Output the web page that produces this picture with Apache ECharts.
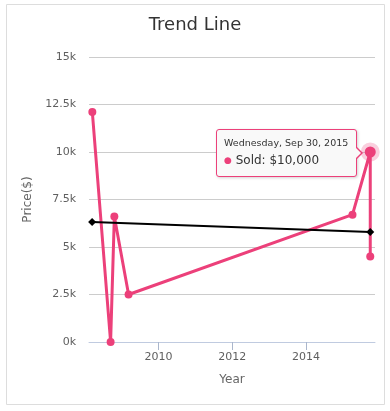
<!DOCTYPE html>
<html>
<head>
<meta charset="utf-8">
<script src="https://cdn.jsdelivr.net/npm/echarts@6/dist/echarts.min.js"></script>
<style>
html,body{margin:0;padding:0;background:#fff;}
#chart{width:390px;height:411px;position:relative;}
.tt::before{content:'';position:absolute;right:-7px;top:16px;width:0;height:0;border-top:7px solid transparent;border-bottom:7px solid transparent;border-left:7px solid #ec407a;}
.tt::after{content:'';position:absolute;right:-5px;top:17px;width:0;height:0;border-top:6px solid transparent;border-bottom:6px solid transparent;border-left:6px solid #f9f9f9;}
</style>
</head>
<body>
<div id="chart"></div>
<script>
// ---- data ----
var soldDates = ['2008-03-17', '2008-09-14', '2008-10-21', '2009-03-11', '2015-04-07', '2015-09-30', '2015-09-30'];
var soldValues = [12100, 0, 6600, 2500, 6700, 10000, 4500];
var trendDates = ['2008-03-15', '2015-09-30'];
var trendValues = [6320, 5790];
var tickYears = [2010, 2012, 2014];
var yTicks = [0, 2500, 5000, 7500, 10000, 12500, 15000];
var xRange = ['2008-02-13', '2015-11-16'];
var highlightIndex = 5;

var PINK = '#ec407a';
function ts(s) { return new Date(s + 'T00:00:00Z').getTime(); }
var tickTs = tickYears.map(function (y) { return Date.UTC(y, 0, 1); });

var soldData = soldDates.map(function (d, i) {
  var item = { value: [ts(d), soldValues[i]] };
  if (i === highlightIndex) {
    item.symbolSize = 11;
    item.itemStyle = { color: PINK, borderColor: 'rgba(236,64,122,0.25)', borderWidth: 8 };
  }
  return item;
});
var trendData = trendDates.map(function (d, i) { return [ts(d), trendValues[i]]; });
var tickData = tickTs.map(function (t) { return [t, yTicks[0]]; });

var DAYS = ['Sunday', 'Monday', 'Tuesday', 'Wednesday', 'Thursday', 'Friday', 'Saturday'];
var MONTHS = ['Jan', 'Feb', 'Mar', 'Apr', 'May', 'Jun', 'Jul', 'Aug', 'Sep', 'Oct', 'Nov', 'Dec'];

var chart = echarts.init(document.getElementById('chart'), null, { renderer: 'canvas' });
var FONT = '"DejaVu Sans", Verdana, sans-serif';
var FONT_CSS = "'DejaVu Sans', Verdana, sans-serif";

chart.setOption({
  animation: false,
  useUTC: true,
  textStyle: { fontFamily: FONT },
  title: {
    text: 'Trend Line',
    left: 'center',
    top: 11,
    textStyle: { fontFamily: FONT, fontSize: 18, fontWeight: 'normal', color: '#333333' }
  },
  graphic: [{
    type: 'rect',
    shape: { x: 6.5, y: 4.5, width: 378, height: 400 },
    style: { fill: 'none', stroke: '#dddddd', lineWidth: 1 },
    silent: true
  }],
  grid: { left: 89, right: 15, top: 57, bottom: 69, containLabel: false },
  tooltip: {
    trigger: 'item',
    triggerOn: 'none',
    alwaysShowContent: true,
    transitionDuration: 0,
    className: 'tt',
    backgroundColor: '#f9f9f9',
    borderColor: PINK,
    borderWidth: 1,
    borderRadius: 3,
    padding: [6, 8, 6, 7],
    extraCssText: 'box-shadow:1px 1px 3px rgba(0,0,0,0.18);',
    position: function () { return [216, 129]; },
    formatter: function (p) {
      var d = new Date(p.value[0]);
      var head = DAYS[d.getUTCDay()] + ', ' + MONTHS[d.getUTCMonth()] + ' ' + d.getUTCDate() + ', ' + d.getUTCFullYear();
      var val = '$' + p.value[1].toLocaleString('en-US');
      return '<div style="font-family:' + FONT_CSS + ';font-size:9.5px;line-height:14px;color:#333;white-space:nowrap;">' + head + '</div>' +
        '<div style="font-family:' + FONT_CSS + ';font-size:12px;line-height:20px;color:#333;white-space:nowrap;">' +
        '<span style="color:' + PINK + ';font-size:9px;vertical-align:1px;">\u25CF</span> ' + p.seriesName + ': ' + val + '</div>';
    }
  },
  xAxis: {
    type: 'time',
    min: ts(xRange[0]),
    max: ts(xRange[1]),
    splitNumber: 4,
    name: 'Year',
    nameLocation: 'middle',
    nameGap: 32,
    nameTextStyle: { color: '#666666', fontSize: 12, fontFamily: FONT },
    axisLine: { show: true, lineStyle: { color: '#c0cbe0', width: 1 } },
    axisTick: { show: false },
    minorTick: { show: false },
    axisLabel: {
      color: '#606060',
      fontSize: 11,
      fontFamily: FONT,
      margin: 10,
      showMinLabel: false,
      showMaxLabel: false,
      formatter: function (v) {
        var y = new Date(v).getUTCFullYear();
        return tickYears.indexOf(y) >= 0 ? String(y) : '';
      }
    },
    splitLine: { show: false }
  },
  yAxis: {
    type: 'value',
    min: yTicks[0],
    max: yTicks[yTicks.length - 1],
    interval: yTicks[1] - yTicks[0],
    name: 'Price($)',
    nameLocation: 'middle',
    nameRotate: 90,
    nameGap: 50,
    nameTextStyle: { color: '#666666', fontSize: 12, fontFamily: FONT },
    axisLine: { show: false },
    axisTick: { show: false },
    axisLabel: {
      color: '#606060',
      fontSize: 11,
      fontFamily: FONT,
      margin: 13,
      formatter: function (v) { return (v / 1000) + 'k'; }
    },
    splitLine: { lineStyle: { color: '#cccccc', width: 1 } }
  },
  series: [{
    name: 'Ticks',
    type: 'custom',
    data: tickData,
    silent: true,
    tooltip: { show: false },
    clip: false,
    z: 1,
    renderItem: function (params, api) {
      var p = api.coord([api.value(0), api.value(1)]);
      var x = Math.round(p[0]) + 0.5;
      return {
        type: 'line',
        shape: { x1: x, y1: p[1], x2: x, y2: p[1] + 8 },
        style: { stroke: '#aab6cc', lineWidth: 1 }
      };
    }
  }, {
    name: 'Sold',
    type: 'line',
    data: soldData,
    symbol: 'circle',
    symbolSize: 8,
    showAllSymbol: true,
    lineStyle: { color: PINK, width: 3 },
    itemStyle: { color: PINK },
    emphasis: { disabled: true },
    z: 2
  }, {
    name: 'Trend',
    type: 'line',
    data: trendData,
    symbol: 'diamond',
    symbolSize: 8,
    lineStyle: { color: '#000000', width: 2 },
    itemStyle: { color: '#000000' },
    emphasis: { disabled: true },
    tooltip: { show: false },
    z: 3
  }]
});

chart.dispatchAction({ type: 'showTip', seriesIndex: 1, dataIndex: highlightIndex });
</script>
</body>
</html>
